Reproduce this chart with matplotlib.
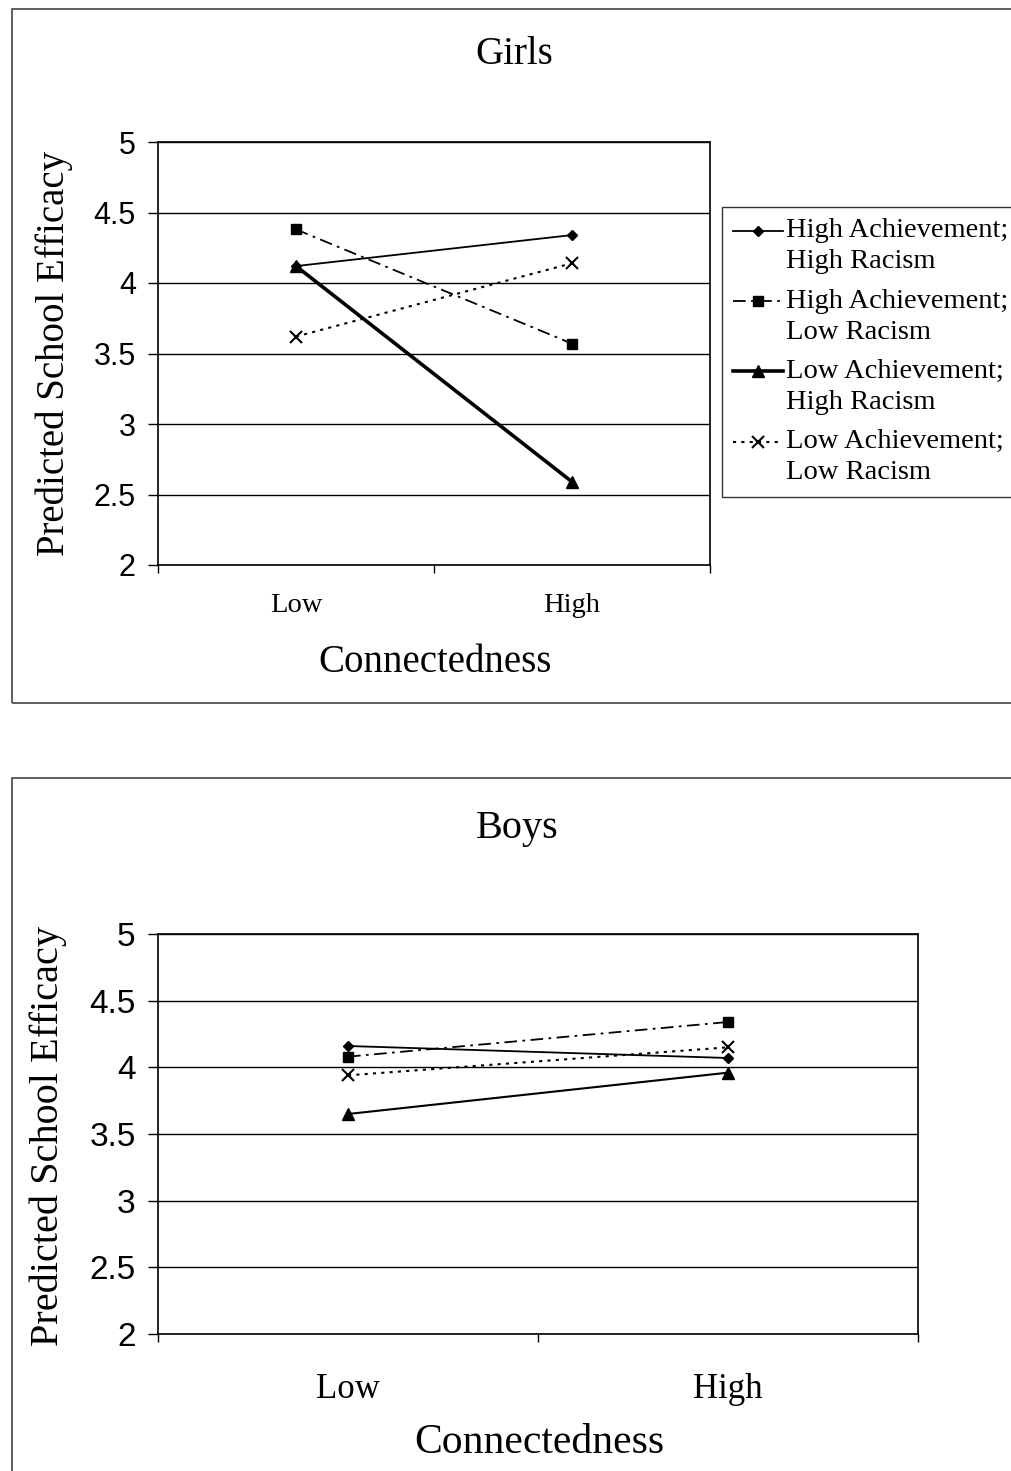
import matplotlib
matplotlib.use('Agg')
import matplotlib.pyplot as plt
from matplotlib.patches import Rectangle
from matplotlib.ticker import FixedLocator

# Data
categories = ['Low', 'High']
series_names = ['High Achievement;\nHigh Racism', 'High Achievement;\nLow Racism',
                'Low Achievement;\nHigh Racism', 'Low Achievement;\nLow Racism']
girls_ha_hr = [4.12, 4.34]
girls_ha_lr = [4.38, 3.57]
girls_la_hr = [4.12, 2.59]
girls_la_lr = [3.62, 4.14]
boys_ha_hr = [4.16, 4.07]
boys_ha_lr = [4.08, 4.34]
boys_la_hr = [3.65, 3.96]
boys_la_lr = [3.94, 4.15]
yticks = [2, 2.5, 3, 3.5, 4, 4.5, 5]
ytick_labels = ['2', '2.5', '3', '3.5', '4', '4.5', '5']

serif = 'Liberation Serif'
sans = 'Liberation Sans'

fig = plt.figure(figsize=(10.11, 14.71), dpi=100)

# outer frames around each panel
fig.patches.append(Rectangle((12 / 1011, 1 - 703 / 1471), 1.2, 694 / 1471,
                             transform=fig.transFigure, fill=False, ec='#444444', lw=1.2))
fig.patches.append(Rectangle((12 / 1011, -0.1), 1.2, 0.1 + 1 - 778 / 1471,
                             transform=fig.transFigure, fill=False, ec='#444444', lw=1.2))


def draw_panel(ax, data, tri_lw, tick_fs, tick_pad, ytick_fs):
    x = [0, 1]
    styles = [
        dict(ls='-', lw=1.3, marker='D', ms=5),
        dict(ls=(0, (7, 3, 1.5, 3)), lw=1.3, marker='s', ms=7),
        dict(ls='-', lw=tri_lw, marker='^', ms=9),
        dict(ls=(0, (1.5, 2.5)), lw=1.5, marker='x', ms=8, mew=1.5),
    ]
    lines = []
    for vals, st, name in zip(data, styles, series_names):
        ln, = ax.plot(x, vals, color='black', label=name, **st)
        lines.append(ln)
    ax.set_xlim(-0.5, 1.5)
    ax.set_ylim(2, 5)
    ax.set_yticks(yticks)
    ax.set_yticklabels(ytick_labels, fontfamily=sans, fontsize=ytick_fs)
    ax.set_xticks(x)
    ax.set_xticklabels(categories, fontfamily=serif, fontsize=tick_fs)
    ax.xaxis.set_minor_locator(FixedLocator([-0.5, 0.5, 1.5]))
    ax.tick_params(axis='x', which='major', length=0, pad=tick_pad)
    ax.tick_params(axis='x', which='minor', length=6, width=1, direction='out')
    ax.tick_params(axis='y', length=7, width=1, pad=9)
    ax.yaxis.grid(True, color='black', lw=1)
    ax.set_axisbelow(True)
    for s in ax.spines.values():
        s.set_linewidth(1.2)
    return lines


ax1 = fig.add_axes([158 / 1011, 1 - 565 / 1471, 552 / 1011, 423 / 1471])
lines = draw_panel(ax1, [girls_ha_hr, girls_ha_lr, girls_la_hr, girls_la_lr], 2.6, 20.5, 20, 22)

ax2 = fig.add_axes([158 / 1011, 1 - 1334 / 1471, 760 / 1011, 400 / 1471])
draw_panel(ax2, [boys_ha_hr, boys_ha_lr, boys_la_hr, boys_la_lr], 1.5, 25, 28, 24)

leg = fig.legend(handles=lines, loc='upper left', bbox_to_anchor=(722 / 1011, 1 - 207 / 1471),
                 prop={'family': serif, 'size': 20.5}, frameon=True, fancybox=False,
                 edgecolor='black', handlelength=1.75, handletextpad=0.1, labelspacing=0.5,
                 borderpad=0.4, borderaxespad=0)
leg.get_frame().set_linewidth(1.0)
for t in leg.get_texts():
    t.set_linespacing(1.32)
# keep each handle level with the first line of its label
for h in leg.legend_handles:
    h.set_ydata([y + 11 for y in h.get_ydata()])

# titles and axis labels
fig.text(514 / 1011, 1 - 55 / 1471, 'Girls', ha='center', va='center', family=serif, fontsize=28)
fig.text(517 / 1011, 1 - 828 / 1471, 'Boys', ha='center', va='center', family=serif, fontsize=29)
fig.text(435 / 1011, 1 - 662 / 1471, 'Connectedness', ha='center', va='center', family=serif, fontsize=28)
fig.text(539 / 1011, 1 - 1443 / 1471, 'Connectedness', ha='center', va='center', family=serif, fontsize=30)
fig.text(54 / 1011, 1 - 354 / 1471, 'Predicted School Efficacy', rotation=90, ha='center',
         va='center', family=serif, fontsize=28)
fig.text(48 / 1011, 1 - 1136 / 1471, 'Predicted School Efficacy', rotation=90, ha='center',
         va='center', family=serif, fontsize=29)

fig.savefig('out.png', dpi=100)
